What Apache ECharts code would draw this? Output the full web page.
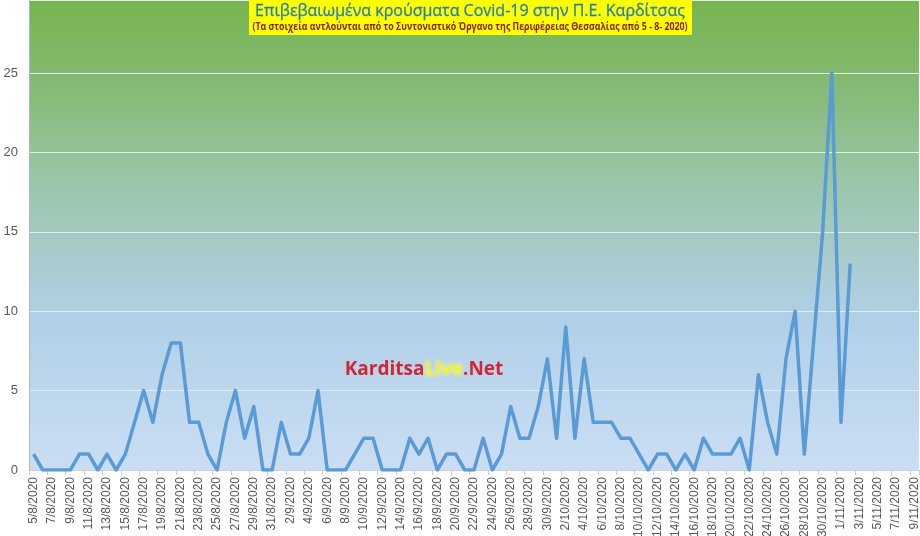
<!DOCTYPE html>
<html>
<head>
<meta charset="utf-8">
<script src="https://cdn.jsdelivr.net/npm/echarts@6/dist/echarts.min.js"></script>
<style>
html,body{margin:0;padding:0;background:#ffffff;}
#c{width:920px;height:536px;}
</style>
</head>
<body>
<div id="c"></div>
<script>
var dates = [
'5/8/2020','6/8/2020','7/8/2020','8/8/2020','9/8/2020','10/8/2020','11/8/2020','12/8/2020','13/8/2020','14/8/2020',
'15/8/2020','16/8/2020','17/8/2020','18/8/2020','19/8/2020','20/8/2020','21/8/2020','22/8/2020','23/8/2020','24/8/2020',
'25/8/2020','26/8/2020','27/8/2020','28/8/2020','29/8/2020','30/8/2020','31/8/2020',
'1/9/2020','2/9/2020','3/9/2020','4/9/2020','5/9/2020','6/9/2020','7/9/2020','8/9/2020','9/9/2020','10/9/2020',
'11/9/2020','12/9/2020','13/9/2020','14/9/2020','15/9/2020','16/9/2020','17/9/2020','18/9/2020','19/9/2020','20/9/2020',
'21/9/2020','22/9/2020','23/9/2020','24/9/2020','25/9/2020','26/9/2020','27/9/2020','28/9/2020','29/9/2020','30/9/2020',
'1/10/2020','2/10/2020','3/10/2020','4/10/2020','5/10/2020','6/10/2020','7/10/2020','8/10/2020','9/10/2020','10/10/2020',
'11/10/2020','12/10/2020','13/10/2020','14/10/2020','15/10/2020','16/10/2020','17/10/2020','18/10/2020','19/10/2020','20/10/2020',
'21/10/2020','22/10/2020','23/10/2020','24/10/2020','25/10/2020','26/10/2020','27/10/2020','28/10/2020','29/10/2020','30/10/2020','31/10/2020',
'1/11/2020','2/11/2020','3/11/2020','4/11/2020','5/11/2020','6/11/2020','7/11/2020','8/11/2020','9/11/2020'
];
var casesAug = [1,0,0,0,0,1,1,0,1,0,1,3,5,3,6,8,8,3,3,1,0,3,5,2,4,0,0];
var casesSep = [3,1,1,2,5,0,0,0,1,2,2,0,0,0,2,1,2,0,1,1,0,0,2,0,1,4,2,2,4,7];
var casesOct = [2,9,2,7,3,3,3,2,2,1,0,1,1,0,1,0,2,1,1,1,2,0,6,3,1,7,10,1,8,15,25];
var casesNov = [3,13,null,null,null,null,null,null,null];
var yTicks = [0,5,10,15,20,25];

var titleMain = 'Επιβεβαιωμένα κρούσματα Covid-19 στην Π.Ε. Καρδίτσας';
var titleSub = '(Τα στοιχεία αντλούνται από το Συντονιστικό Όργανο της Περιφέρειας Θεσσαλίας από 5 - 8- 2020)';

var cases = casesAug.concat(casesSep, casesOct, casesNov);

var chart = echarts.init(document.getElementById('c'));
chart.setOption({
  animation: false,
  backgroundColor: '#ffffff',
  grid: {
    left: 29, right: 1, top: 0, bottom: 66,
    outerBoundsMode: 'none',
    containLabel: false,
    show: true,
    borderWidth: 0,
    backgroundColor: {
      type: 'linear', x: 0, y: 0, x2: 0, y2: 1,
      colorStops: [
        {offset: 0, color: '#77b44f'},
        {offset: 0.2, color: '#86bb78'},
        {offset: 0.4, color: '#9cc6ab'},
        {offset: 0.55, color: '#a9cccd'},
        {offset: 0.68, color: '#b0d0e8'},
        {offset: 1, color: '#cadef3'}
      ]
    }
  },
  xAxis: {
    type: 'category',
    data: dates,
    boundaryGap: true,
    axisLine: {show: true, lineStyle: {color: '#c9d3dc', width: 1}},
    axisTick: {show: true, interval: 1, length: 5, lineStyle: {color: '#cfcfcf'}},
    axisLabel: {
      interval: 1, rotate: 90, fontSize: 12, color: '#595959',
      fontFamily: 'Liberation Sans', margin: 7
    },
    splitLine: {show: false}
  },
  yAxis: {
    type: 'value',
    min: 0, max: 29.6, interval: 5,
    axisLine: {show: true, lineStyle: {color: '#a9bdcc', width: 1}},
    axisTick: {show: false},
    axisLabel: {
      showMaxLabel: false, fontSize: 13, color: '#595959', margin: 11,
      fontFamily: 'Liberation Sans',
      formatter: function (v) { return yTicks.indexOf(v) >= 0 ? String(v) : ''; }
    },
    splitLine: {show: true, lineStyle: {color: '#e6ecee', width: 1}}
  },
  series: [{
    type: 'line',
    data: cases,
    showSymbol: false,
    symbol: 'none',
    connectNulls: false,
    lineStyle: {color: '#5b9bd5', width: 3.5, join: 'round'},
    itemStyle: {color: '#5b9bd5'}
  }],
  graphic: [
    {
      type: 'rect', left: 249, top: 0, z: 100,
      shape: {width: 443, height: 35},
      style: {fill: '#ffff00'}
    },
    {
      type: 'text', x: 470, y: 11, z: 101,
      style: {
        text: titleMain, fill: '#2a7fae',
        font: '16px "Open Sans"', textAlign: 'center', textVerticalAlign: 'middle',
        stroke: '#2a7fae', lineWidth: 0.3
      }
    },
    {
      type: 'text', x: 470, y: 27, z: 101, scaleX: 0.84,
      style: {
        text: titleSub, fill: '#8c2020',
        font: 'bold 10.5px "Open Sans"', textAlign: 'center', textVerticalAlign: 'middle'
      }
    },
    {
      type: 'text', x: 424, y: 370, z: 50,
      style: {
        text: '{r|Karditsa}{y|Live}{r|.Net}',
        textAlign: 'center', textVerticalAlign: 'middle',
        rich: {
          r: {fill: '#d02636', font: 'bold 19px "Open Sans"'},
          y: {fill: '#eef03a', font: 'bold 19px "Open Sans"', textShadowColor: '#f8f8a0', textShadowBlur: 4}
        }
      }
    }
  ]
});
</script>
</body>
</html>
